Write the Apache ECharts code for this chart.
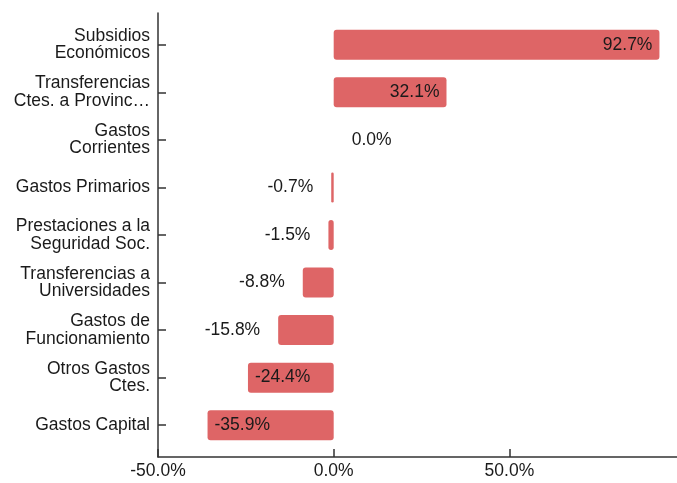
<!DOCTYPE html>
<html>
<head>
<meta charset="utf-8">
<script src="https://cdn.jsdelivr.net/npm/echarts@6/dist/echarts.min.js"></script>
<style>
  html, body { margin: 0; padding: 0; background: #fff; }
  #chart { width: 677px; height: 483px; }
</style>
</head>
<body>
<div id="chart"></div>
<script>
// categorias de arriba hacia abajo
const categories = [
  "Subsidios\nEconómicos",
  "Transferencias\nCtes. a Provinc…",
  "Gastos\nCorrientes",
  "Gastos Primarios",
  "Prestaciones a la\nSeguridad Soc.",
  "Transferencias a\nUniversidades",
  "Gastos de\nFuncionamiento",
  "Otros Gastos\nCtes.",
  "Gastos Capital"
];
const variacion = [92.7, 32.1, 0.0, -0.7, -1.5, -8.8, -15.8, -24.4, -35.9];
const xTicks = [-50, 0, 50];

const font = "Liberation Sans, Arial, sans-serif";
const textColor = "#1a1a1a";
const fs = 17.5;

const chart = echarts.init(document.getElementById("chart"));

const barData = variacion.map(v => {
  let pos;
  if (v >= 0) pos = v > 20 ? "insideRight" : "right";
  else pos = v < -20 ? "insideLeft" : "left";
  const inside = pos.indexOf("inside") === 0;
  return { value: v, label: { position: pos, distance: inside ? 7 : 18 } };
});

chart.setOption({
  animation: false,
  grid: [
    { left: 158, right: 0, top: 21, bottom: 34 },
    { left: 158, right: 0, top: 13, bottom: 26 }
  ],
  xAxis: [
    { gridIndex: 0, type: "value", min: -50, max: 97.7, show: false },
    {
      gridIndex: 1, type: "value", min: -50, max: 97.7, interval: 50,
      splitLine: { show: false },
      axisLine: { show: true, onZero: false, lineStyle: { color: "#333", width: 1.5 } },
      axisTick: { show: true, inside: true, length: 8, customValues: xTicks,
        lineStyle: { color: "#333", width: 1.5 } },
      axisLabel: {
        customValues: xTicks, margin: 5,
        fontFamily: font, fontSize: fs, color: textColor,
        formatter: v => v.toFixed(1) + "%"
      }
    }
  ],
  yAxis: [
    {
      gridIndex: 0, type: "category", data: categories, inverse: true,
      axisLine: { show: false, onZero: false },
      axisTick: { show: true, inside: true, length: 8, alignWithLabel: true,
        lineStyle: { color: "#333", width: 1.5 } },
      axisLabel: {
        margin: 8, fontFamily: font, fontSize: fs, color: textColor,
        lineHeight: 17.5, align: "right"
      }
    },
    {
      gridIndex: 1, type: "value", min: 0, max: 1,
      splitLine: { show: false },
      axisTick: { show: false },
      axisLabel: { show: false },
      axisLine: { show: true, onZero: false, lineStyle: { color: "#333", width: 1.5 } }
    }
  ],
  series: [
    {
      type: "bar",
      xAxisIndex: 0, yAxisIndex: 0,
      data: barData,
      barWidth: 30,
      itemStyle: { color: "#de6566", borderRadius: 3 },
      label: {
        show: true,
        fontFamily: font, fontSize: fs, color: textColor,
        formatter: p => p.value.toFixed(1) + "%"
      }
    }
  ]
});
</script>
</body>
</html>
